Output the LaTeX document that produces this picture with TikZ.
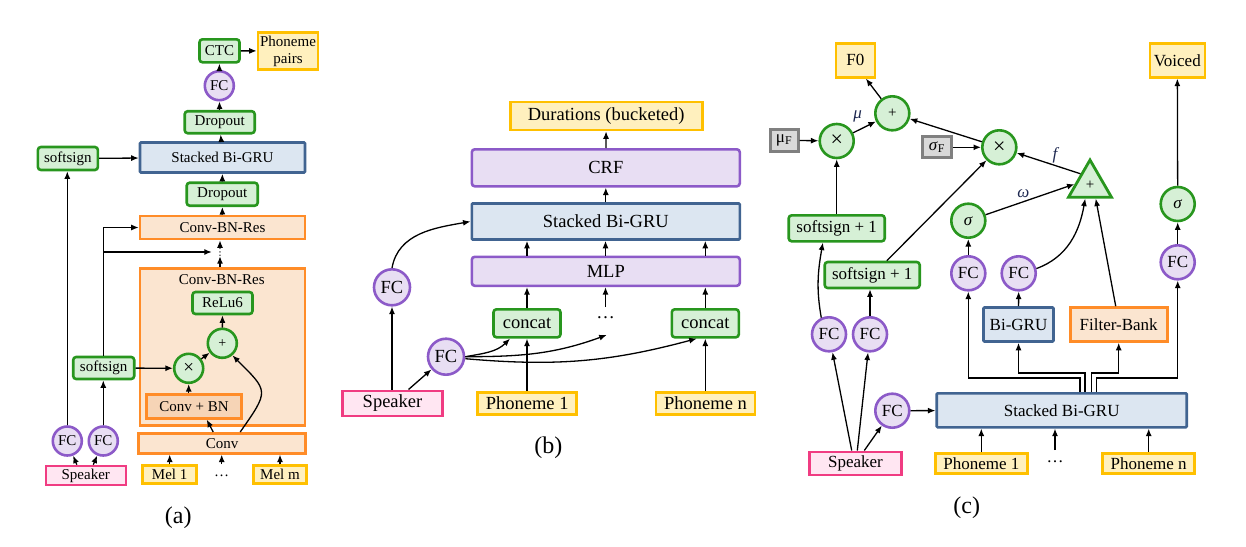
\documentclass[tikz,border=0pt]{standalone}
\usepackage{fontspec}
\setmainfont{Liberation Serif}
\newfontfamily\dejavu{DejaVu Sans}
\usetikzlibrary{arrows.meta,shapes.geometric,calc}
\definecolor{gB}{RGB}{40,150,30}
\definecolor{gF}{RGB}{214,240,214}
\definecolor{pB}{RGB}{140,90,200}
\definecolor{pF}{RGB}{232,222,243}
\definecolor{bB}{RGB}{65,100,145}
\definecolor{bF}{RGB}{220,230,241}
\definecolor{oB}{RGB}{255,140,40}
\definecolor{oF}{RGB}{251,229,208}
\definecolor{oD}{RGB}{246,212,182}
\definecolor{yB}{RGB}{255,192,0}
\definecolor{yF}{RGB}{255,240,190}
\definecolor{sB}{RGB}{240,60,130}
\definecolor{sF}{RGB}{255,230,242}
\definecolor{kB}{RGB}{128,128,128}
\definecolor{kF}{RGB}{217,217,217}
\definecolor{labC}{RGB}{30,40,80}
\tikzset{
 base/.style={draw, line width=2.6pt, inner sep=0pt, align=center},
 gbox/.style={base, draw=gB, fill=gF, rounded corners=3pt},
 pbox/.style={base, draw=pB, fill=pF, rounded corners=3pt},
 bbox/.style={base, draw=bB, fill=bF, rounded corners=1pt},
 obox/.style={base, draw=oB, fill=oF},
 ybox/.style={base, draw=yB, fill=yF},
 kbox/.style={base, draw=kB, fill=kF, line width=3pt},
 sbox/.style={base, draw=sB, fill=sF},
 gcirc/.style={base, circle, draw=gB, fill=gF},
 pcirc/.style={base, circle, draw=pB, fill=pF},
 arr/.style={-{Latex[length=7.5pt,width=6pt]}, line width=1.3pt, black},
 fa/.style={font=\fontsize{15}{17}\selectfont},
 fb/.style={font=\fontsize{18.5}{20}\selectfont},
 fc/.style={font=\fontsize{17}{19}\selectfont},
 captext/.style={font=\fontsize{24}{26}\selectfont},
 lab/.style={font=\fontsize{17}{19}\selectfont\itshape, text=labC, inner sep=0pt},
}
\begin{document}
\begin{tikzpicture}[x=1pt,y=1pt]
\useasboundingbox (0,0) rectangle (1246,-546);
% ---------------- (a) ----------------
\node[gbox,fa,minimum width=40,minimum height=23] (ctc) at (219.5,-50.8) {CTC};
\node[ybox,fa,minimum width=60,minimum height=37] (pp) at (288,-51) {Phoneme\\pairs};
\node[pcirc,fa,minimum size=29] (fca) at (219.3,-85.7) {FC};
\node[gbox,fa,minimum width=70,minimum height=22] (drop1) at (219.7,-122.2) {Dropout};
\node[bbox,fa,minimum width=165,minimum height=30] (grua) at (222.5,-157.5) {Stacked Bi-GRU};
\node[gbox,fa,minimum width=60,minimum height=23] (ss1) at (67.9,-158.5) {softsign};
\node[gbox,fa,minimum width=71,minimum height=23] (drop2) at (222.2,-194.2) {Dropout};
\node[obox,fa,minimum width=165,minimum height=23] (cbr1) at (222.5,-227.5) {Conv-BN-Res};
\node[inner sep=0pt,font=\dejavu\fontsize{10}{10}\selectfont] (vd) at (220,-252) {⋮};
\node[obox,minimum width=165,minimum height=157] (cbr2) at (222.5,-347) {};
\node[fa,inner sep=0pt] (cbrl) at (221.7,-279.3) {Conv-BN-Res};
\node[gbox,fa,minimum width=60,minimum height=22] (relu) at (222.5,-303) {ReLu6};
\node[gcirc,minimum size=29,font=\fontsize{14}{14}\selectfont] (plusa) at (222.3,-343.3) {+};
\node[gcirc,minimum size=29,font=\fontsize{19}{19}\selectfont] (timesa) at (188.7,-368.3) {×};
\node[gbox,fa,minimum width=61,minimum height=22] (ss2) at (103.7,-368) {softsign};
\node[obox,fill=oD,fa,minimum width=95,minimum height=24] (cbn) at (194,-406.3) {Conv + BN};
\node[obox,fa,minimum width=167,minimum height=20] (conv) at (222.2,-443.3) {Conv};
\node[pcirc,fa,minimum size=29] (fcal) at (67.3,-441) {FC};
\node[pcirc,fa,minimum size=29] (fcar) at (103.3,-441) {FC};
\node[sbox,fa,minimum width=80,minimum height=19] (spka) at (85.8,-475.5) {Speaker};
\node[ybox,fa,minimum width=54,minimum height=18] (mel1) at (169.7,-474.7) {Mel 1};
\node[fa,inner sep=0pt] (dotsa) at (221.7,-476) {…};
\node[ybox,fa,minimum width=53,minimum height=18] (melm) at (280,-474.7) {Mel m};
\node[captext] (capa) at (178.3,-518) {(a)};
\draw[arr] (ctc) -- (pp);
\draw[arr] (fca) -- (ctc);
\draw[arr] (drop1) -- (fca);
\draw[arr] (grua) -- (drop1);
\draw[arr] (drop2) -- (grua);
\draw[arr] (cbr1) -- (drop2);
\draw[arr] (ss1) -- (grua);
\draw[arr] (fcal) -- (fcal |- ss1.south);
\draw[arr] (fcar) -- (fcar |- ss2.south);
\draw[arr] (ss2.north) |- (cbr1.west);
\draw[arr,shorten >=3pt] (ss2.north |- vd) -- (vd.west);
\draw[arr] (cbr2.north -| vd) -- (vd.south);
\draw[arr] (vd.north) -- (vd.north |- cbr1.south);
\draw[arr] (ss2) -- (timesa);
\draw[arr] (timesa) -- (plusa);
\draw[arr] (plusa) -- (relu);
\draw[arr] (cbn.north -| timesa) -- (timesa);
\draw[arr] ($(conv.north)+(-9,0)$) -- ($(cbn.south)+(12.7,0)$);
\draw[arr] ($(conv.north)+(18,0)$) to[out=55,in=-45,looseness=1.7] (plusa.-50);
\draw[arr] ($(spka.north)+(-9,0)$) -- (fcal);
\draw[arr] ($(spka.north)+(7.5,0)$) -- (fcar);
\draw[arr] (mel1) -- (mel1 |- conv.south);
\draw[arr] ($(dotsa.center)+(0,12)$) -- (dotsa |- conv.south);
\draw[arr] (melm) -- (melm |- conv.south);
% ---------------- (b) ----------------
\node[ybox,fb,minimum width=192,minimum height=28] (dur) at (606.2,-116) {Durations (bucketed)};
\node[pbox,fb,minimum width=268,minimum height=37] (crf) at (605.8,-167.8) {CRF};
\node[bbox,fb,minimum width=268,minimum height=36] (grub) at (605.8,-221.5) {Stacked Bi-GRU};
\node[pbox,fb,minimum width=268,minimum height=29] (mlp) at (605.8,-271.3) {MLP};
\node[gbox,fb,minimum width=67,minimum height=28] (cc1) at (527,-323.3) {concat};
\node[gbox,fb,minimum width=67,minimum height=28] (cc2) at (705.3,-323.3) {concat};
\node[fb,inner sep=0pt] (dotsb) at (605.5,-318) {…};
\node[pcirc,fb,minimum size=36] (fcb1) at (392,-287.3) {FC};
\node[pcirc,fb,minimum size=36] (fcb2) at (446,-356.7) {FC};
\node[sbox,fb,minimum width=100,minimum height=25] (spkb) at (392.5,-403.3) {Speaker};
\node[ybox,fb,minimum width=99,minimum height=22] (ph1b) at (527.2,-403.3) {Phoneme 1};
\node[ybox,fb,minimum width=99,minimum height=22] (phnb) at (705.5,-403.3) {Phoneme n};
\node[captext] (capb) at (548.3,-448) {(b)};
\draw[arr] (crf) -- (dur);
\draw[arr] (grub) -- (crf);
\draw[arr] (cc1 |- mlp.north) -- (cc1 |- grub.south);
\draw[arr] (dotsb |- mlp.north) -- (dotsb |- grub.south);
\draw[arr] (cc2 |- mlp.north) -- (cc2 |- grub.south);
\draw[arr] (cc1) -- (cc1 |- mlp.south);
\draw[arr] ($(dotsb)+(0,11)$) -- (dotsb |- mlp.south);
\draw[arr] (cc2) -- (cc2 |- mlp.south);
\draw[arr] (ph1b.north -| cc1) -- (cc1);
\draw[arr] (phnb.north -| cc2) -- (cc2);
\draw[arr] (spkb.north -| fcb1) -- (fcb1);
\draw[arr] ($(spkb.north)+(16,0)$) -- (fcb2);
\draw[arr] (fcb1.north) to[out=80,in=190] (grub.west);
\draw[arr] (fcb2.east) to[out=10,in=-135] ($(cc1.south)+(-17,0)$);
\draw[arr] (fcb2.east) to[out=0,in=-160] ($(dotsb)+(1.2,-17)$);
\draw[arr] ($(fcb2.east)+(0,-2)$) to[out=-5,in=-165] ($(cc2.south)+(-8.6,0)$);
% ---------------- (c) ----------------
\node[ybox,fc,minimum width=39,minimum height=34] (f0) at (855.3,-60.3) {F0};
\node[ybox,fc,minimum width=55,minimum height=34] (voiced) at (1177.3,-60.3) {Voiced};
\node[gcirc,minimum size=34,font=\fontsize{15}{15}\selectfont] (plusc) at (892.3,-113.3) {+};
\node[gcirc,minimum size=34,font=\fontsize{22}{22}\selectfont] (tc1) at (836.7,-141) {×};
\node[kbox,fc,minimum width=28,minimum height=22] (muf) at (784,-140.3) {μ\textsubscript{F}};
\node[kbox,fc,minimum width=28.5,minimum height=21] (sigf) at (937,-147.3) {\textit{σ}\textsubscript{F}};
\node[gcirc,minimum size=34,font=\fontsize{22}{22}\selectfont] (tc2) at (999.3,-147.3) {×};
\node[base,line width=2.8pt,regular polygon,regular polygon sides=3,draw=gB,fill=gF,minimum size=49.6,font=\fontsize{15}{15}\selectfont] (tri) at (1090,-184.8) {+};
\node[gcirc,fc,minimum size=34] (sigl) at (968.3,-220.7) {\textit{σ}};
\node[gcirc,fc,minimum size=34] (sigr) at (1177.7,-204) {\textit{σ}};
\node[gbox,fc,minimum width=96,minimum height=26] (ssc1) at (836.7,-228.3) {softsign + 1};
\node[gbox,fc,minimum width=95,minimum height=26] (ssc2) at (872.2,-275) {softsign + 1};
\node[pcirc,fc,minimum size=34] (fcc1) at (968.3,-273.3) {FC};
\node[pcirc,fc,minimum size=34] (fcc2) at (1018.7,-273.3) {FC};
\node[pcirc,fc,minimum size=34] (fcc3) at (1177.7,-262.3) {FC};
\node[pcirc,fc,minimum size=34] (fcc4) at (829,-334.3) {FC};
\node[pcirc,fc,minimum size=34] (fcc5) at (870,-334.3) {FC};
\node[pcirc,fc,minimum size=34] (fcc6) at (892.3,-410.7) {FC};
\node[bbox,fc,minimum width=250,minimum height=34] (gruc) at (1061.7,-410.3) {Stacked Bi-GRU};
\node[bbox,fc,minimum width=70,minimum height=34] (bigru) at (1018.5,-324.5) {Bi-GRU};
\node[obox,fc,minimum width=97,minimum height=34] (fb) at (1118.7,-324.5) {Filter-Bank};
\node[sbox,fc,minimum width=92,minimum height=23] (spkc) at (855.5,-463.3) {Speaker};
\node[ybox,fc,minimum width=92,minimum height=20] (ph1c) at (981.3,-463.3) {Phoneme 1};
\node[fc,inner sep=0pt] (dotsc) at (1055,-462) {…};
\node[ybox,fc,minimum width=92,minimum height=20] (phnc) at (1148.7,-463.3) {Phoneme n};
\node[captext] (capc) at (966.7,-508) {(c)};
\node[lab] (lmu) at (857.7,-116) {μ};
\node[lab] (lf) at (1055,-155) {f};
\node[lab] (lom) at (1023.3,-193.3) {ω};
\draw[arr] (plusc) -- (f0.-60);
\draw[arr] (tc1) -- (plusc);
\draw[arr] (tc2) -- (plusc);
\draw[arr] (muf) -- (tc1);
\draw[arr] (sigf) -- (tc2);
\draw[arr] ($(tri.corner 1)!0.4!(tri.corner 2)$) -- (tc2);
\draw[arr] (sigl) -- ($(tri.corner 1)!0.65!(tri.corner 2)$);
\draw[arr] (fcc2.15) to[out=20,in=-100] ($(tri.corner 2)!0.4!(tri.corner 3)$);
\draw[arr] ($(fb.north west)!0.47!(fb.north east)$) -- ($(tri.corner 2)!0.62!(tri.corner 3)$);
\draw[arr] (ssc1) -- (tc1);
\draw[arr] ($(ssc2.north west)!0.65!(ssc2.north east)$) -- (tc2);
\draw[arr] (fcc1) -- (sigl);
\draw[arr] (fcc3) -- (sigr);
\draw[arr] (sigr) -- (voiced);
\draw[arr] (bigru) -- (fcc2);
\draw[arr] ($(gruc.north)+(18.3,0)$) -- ++(0,14) -| (fcc1);
\draw[arr] ($(gruc.north)+(23.3,0)$) -- ++(0,19) -| (bigru);
\draw[arr] ($(gruc.north)+(30,0)$) -- ++(0,19) -| (fb);
\draw[arr] ($(gruc.north)+(35,0)$) -- ++(0,14) -| (fcc3);
\draw[arr] (ph1c.north) -- (ph1c.north |- gruc.south);
\draw[arr] ($(dotsc)+(0,12)$) -- (dotsc |- gruc.south);
\draw[arr] (phnc.north) -- (phnc.north |- gruc.south);
\draw[arr] (fcc6) -- (gruc);
\draw[arr] ($(spkc.north)+(-3.8,0)$) -- (fcc4);
\draw[arr] ($(spkc.north)+(1.8,0)$) -- (fcc5);
\draw[arr] ($(spkc.north)+(8.8,0)$) -- (fcc6);
\draw[arr] (fcc4.115) to[out=100,in=-100] ($(ssc1.south west)!0.36!(ssc1.south east)$);
\draw[arr] (fcc5) -- (fcc5 |- ssc2.south);
\end{tikzpicture}
\end{document}
